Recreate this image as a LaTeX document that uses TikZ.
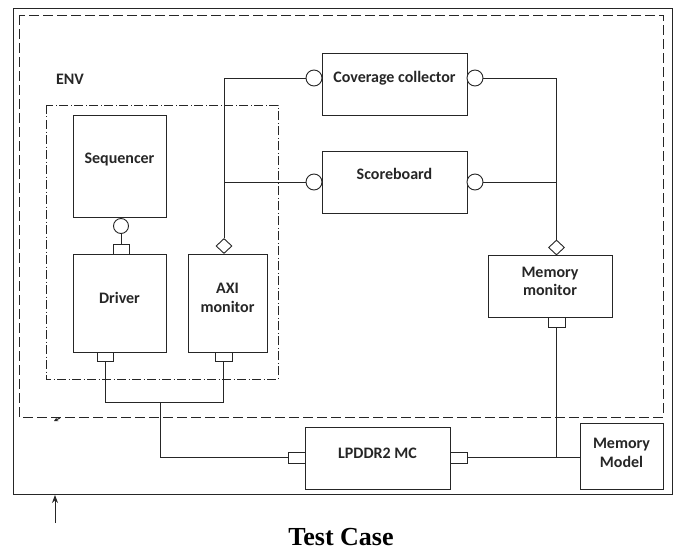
\documentclass[tikz,border=0pt]{standalone}
\usepackage{fontspec}
\setmainfont{Liberation Serif}
\newfontfamily\boxfont{Carlito}
\usetikzlibrary{shapes.geometric,arrows.meta}
\begin{document}
\begin{tikzpicture}[x=1pt,y=-1pt, line width=0.9pt, color=black!85,
  box/.style={draw, rectangle, inner sep=0pt, fill=white},
  lbl/.style={font=\boxfont\bfseries\fontsize{16}{18.5}\selectfont, align=center, text=black!85},
  port/.style={draw, rectangle, inner sep=0pt, fill=white},
  sock/.style={draw, circle, inner sep=0pt, minimum size=16pt, fill=white},
  agg/.style={draw, diamond, inner sep=0pt, minimum width=16pt, minimum height=15pt, fill=white},
  envframe/.style={draw, dash pattern=on 10pt off 4pt},
  agentframe/.style={draw, dash pattern=on 9pt off 2.5pt on 1pt off 2.5pt}]
\useasboundingbox (0,0) rectangle (678,551);
% frames
\draw (13,8) rectangle (672,494);
\draw[envframe] (19,15) rectangle (663,417);
\draw[agentframe] (46,105) rectangle (278,379);
\node[lbl] (env) at (70,79) {ENV};
% boxes
\node[box, minimum width=93pt, minimum height=102pt, label={[lbl, yshift=6pt]center:Sequencer}] (seq) at (119.5,166) {};
\node[box, minimum width=93pt, minimum height=98pt, label={[lbl, yshift=5pt]center:Driver}] (drv) at (119.5,303) {};
\node[box, minimum width=79pt, minimum height=98pt, label={[lbl, yshift=5pt]center:AXI\\monitor}] (axi) at (227.5,303) {};
\node[box, minimum width=145pt, minimum height=62pt, label={[lbl, yshift=6pt]center:Coverage collector}] (cov) at (394.5,84) {};
\node[box, minimum width=145pt, minimum height=62pt, label={[lbl, yshift=8pt]center:Scoreboard}] (sb) at (394.5,182) {};
\node[box, minimum width=124pt, minimum height=62pt, label={[lbl, yshift=4.5pt]center:Memory\\monitor}] (memmon) at (550,286) {};
\node[box, minimum width=145pt, minimum height=62pt, label={[lbl, yshift=5pt]center:LPDDR2 MC}] (mc) at (377.5,458) {};
\node[box, minimum width=83pt, minimum height=66pt, label={[lbl, yshift=3pt]center:Memory\\Model}] (mm) at (621.5,456) {};
% ports
\node[sock, minimum size=15pt] (seqc) at (121,226) {};
\node[port, minimum width=16pt, minimum height=10pt] (drvsq) at (121,249) {};
\node[port, minimum width=16pt, minimum height=9pt] (drvp) at (105,356.5) {};
\node[agg] (axid) at (224,246) {};
\node[port, minimum width=17pt, minimum height=9pt] (axip) at (223.5,356.5) {};
\node[sock] (covl) at (314,78) {};
\node[sock] (covr) at (475,78) {};
\node[sock] (sbl) at (314,182) {};
\node[sock] (sbr) at (475,182) {};
\node[agg] (memd) at (556.5,247.5) {};
\node[port, minimum width=17pt, minimum height=10pt] (memp) at (556.5,322) {};
\node[port, minimum width=17pt, minimum height=11pt] (mcl) at (296.5,457.5) {};
\node[port, minimum width=17pt, minimum height=11pt] (mcr) at (458.5,457.5) {};
% connectors
\draw (seqc) -- (drvsq);
\draw (axid.north) |- (covl.west);
\coordinate (j1) at (axid.north |- sbl.west);
\draw (j1) -- (sbl.west);
\draw (covr.east) -| (memd.north);
\draw (sbr.east) -- (sbr.east -| memd.north);
\coordinate (j2) at (160,402);
\draw (drvp.south) |- (axip.south |- j2) -- (axip.south);
\draw (j2) |- (mcl.west);
\draw (mcr.east) -- (mcr.east -| mm.west);
\coordinate (j3) at (memp.south |- mcr.east);
\draw (memp.south) -- (j3);
% small marks
\coordinate (t1) at (60,418);
\coordinate (t2) at (54,421);
\draw[-{Stealth[length=4pt,width=4pt]}] (t1) -- (t2);
\coordinate (a1) at (55,523);
\coordinate (a2) at (55,495);
\draw[-{Stealth[length=8pt,width=6pt]}, line width=1pt] (a1) -- (a2);
\node[font=\bfseries\fontsize{26}{30}\selectfont, anchor=base, inner sep=0pt, text depth=0pt, text=black] (tc) at (341,545) {Test Case};
\end{tikzpicture}
\end{document}
